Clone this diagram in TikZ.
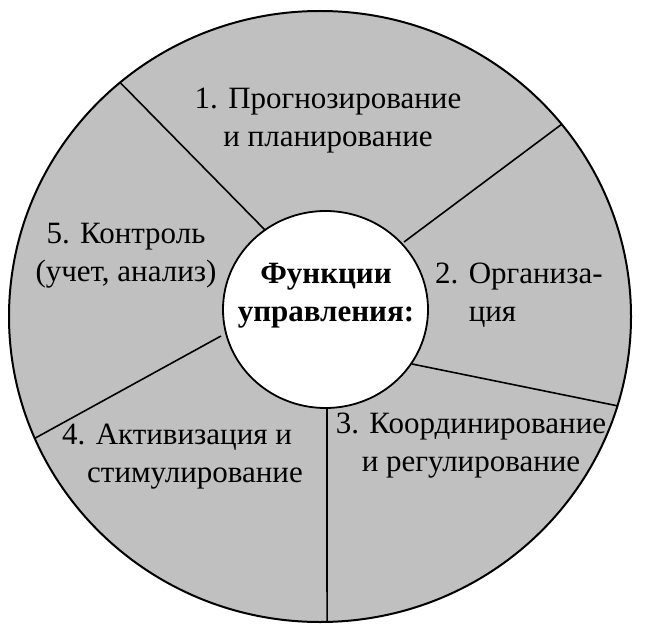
\documentclass[tikz,border=0pt]{standalone}
\usepackage{fontspec}
\setmainfont{Liberation Serif}
\usetikzlibrary{calc}
\definecolor{sectorgray}{RGB}{192,192,192}
\tikzset{
  txt/.style={font=\fontsize{31bp}{38bp}\selectfont, inner sep=0pt},
  divider/.style={draw=black, line width=1.6bp},
}
\begin{document}
\begin{tikzpicture}[x=1bp, y=-1bp]
      \useasboundingbox (0,0) rectangle (648,636);
      \coordinate (O) at (320,316.5);
      \coordinate (C) at (325.5,309.5);
      \fill[sectorgray, draw=black, line width=2bp]
        (O) ellipse [x radius=311, y radius=305.5];
      \coordinate (o1) at ($(O)+(230:311 and 305.5)$);
      \coordinate (o2) at ($(O)+(321:311 and 305.5)$);
      \coordinate (o3) at ($(O)+(17:311 and 305.5)$);
      \coordinate (o4) at ($(O)+(88.7:311 and 305.5)$);
      \coordinate (o5) at ($(O)+(156.5:311 and 305.5)$);
      \coordinate (i1) at (265,230);
      \coordinate (i2) at (404,242);
      \coordinate (i3) at (412,364);
      \coordinate (i4) at (327,408);
      \coordinate (i5) at (221,336);
      \begin{scope}[divider]
        \draw (o1) -- (i1);
        \draw (o2) -- (i2);
        \draw (o3) -- (i3);
        \draw (o4) -- (i4);
        \draw (o5) -- (i5);
      \end{scope}
      \fill[white, draw=black, line width=1.8bp]
        (C) ellipse [x radius=102.5, y radius=98.5];
      \node[txt, align=center] (f1) at (328,121) {1. Прогнозирование\\и планирование};
      \node[txt, align=left, anchor=west] (f2) at (435,295) {2. Организа-\\\phantom{2. }ция};
      \node[txt, align=center] (f3) at (471,446) {3. Координирование\\и регулирование};
      \node[txt, align=left, anchor=west] (f4) at (62,457) {4. Активизация и\\\hspace*{25bp}стимулирование};
      \node[txt, align=center] (f5) at (126,256) {5. Контроль\\(учет, анализ)};
      \node[txt, align=center] (fc) at (326,296) {\textbf{Функции}\\\textbf{управления:}};
    \end{tikzpicture}
\end{document}
